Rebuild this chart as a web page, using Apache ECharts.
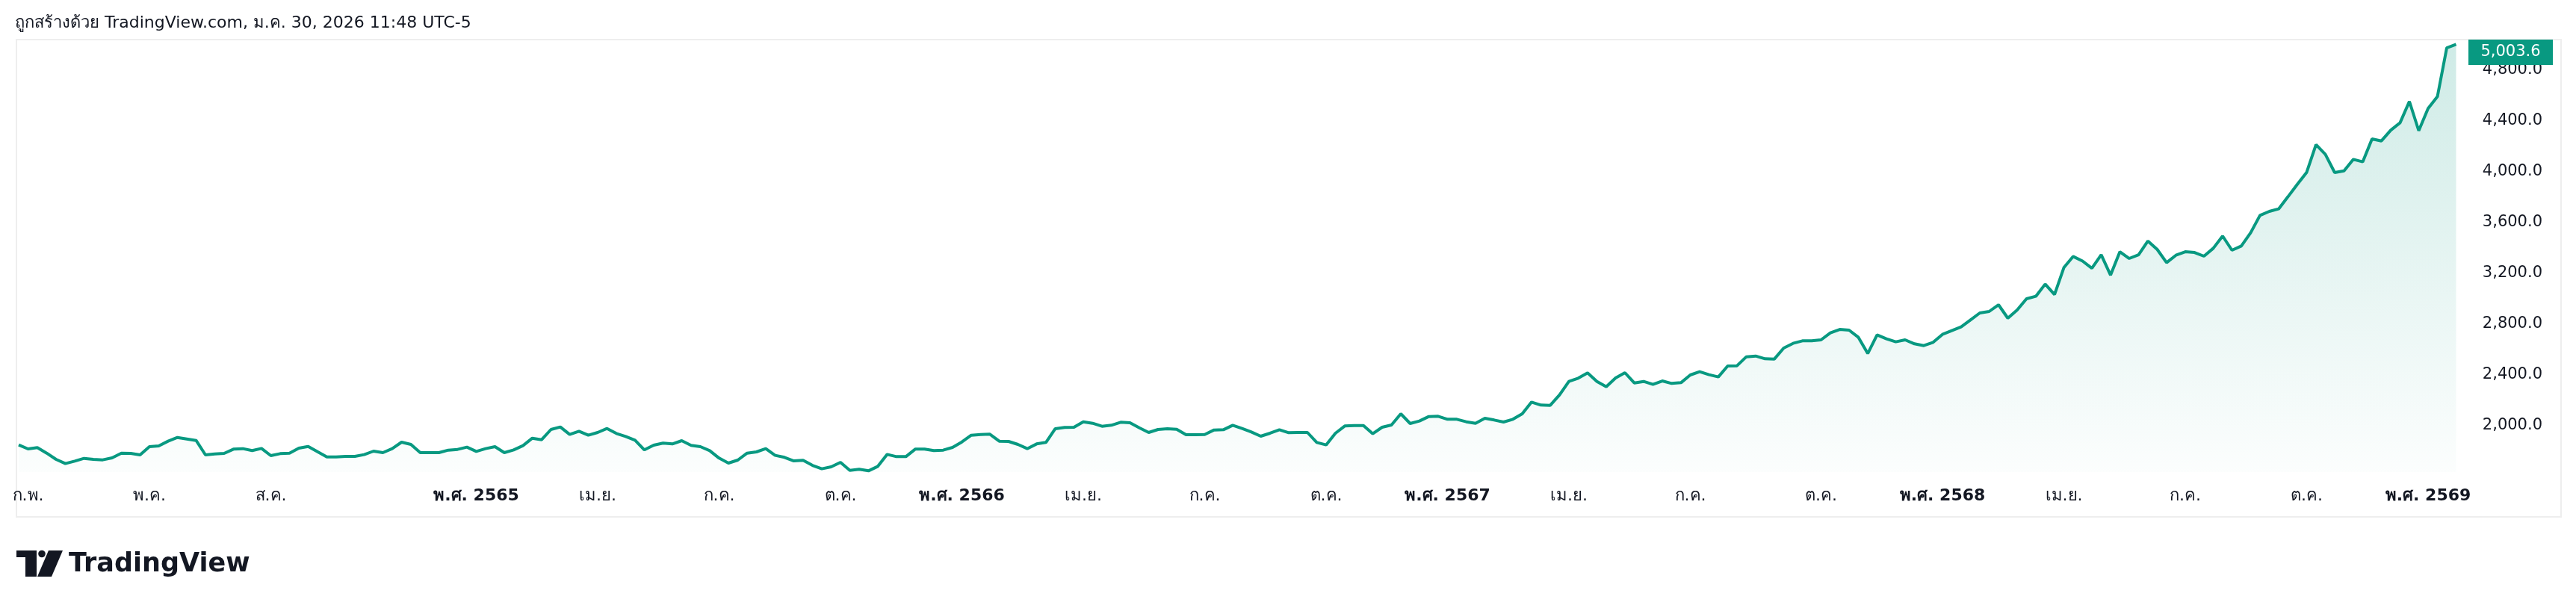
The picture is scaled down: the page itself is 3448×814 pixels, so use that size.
<!DOCTYPE html>
<html>
<head>
<meta charset="utf-8">
<script src="https://cdn.jsdelivr.net/npm/echarts@6/dist/echarts.min.js"></script>
<style>
html,body{margin:0;padding:0;background:#ffffff;}
#chart{width:3448px;height:814px;}
</style>
</head>
<body>
<div id="chart"></div>
<script>
// ---- data (weekly closes, first bar = week of 2021-01-25) ----
const firstWeek = '2021-01-25';
const weeklyClose = [
  1849.0, 1817.7, 1827.5, 1784.3, 1735.3, 1702.0, 1721.6, 1743.2, 1735.3, 1731.4,
  1747.1, 1784.3, 1782.4, 1770.6, 1835.3, 1841.2, 1878.5, 1907.9, 1896.1, 1884.3,
  1770.6, 1778.5, 1782.4, 1815.7, 1819.6, 1804.0, 1821.6, 1764.7, 1780.4, 1784.3,
  1823.6, 1837.3, 1796.1, 1755.0, 1755.0, 1758.9, 1758.9, 1772.6, 1800.0, 1788.3,
  1819.6, 1870.6, 1853.0, 1788.3, 1788.3,
  1788.3, 1807.9, 1813.8, 1831.4, 1798.1, 1819.6, 1835.3, 1788.3, 1809.8, 1843.2,
  1902.0, 1890.2, 1970.6, 1990.2, 1931.4, 1956.9, 1925.5, 1947.1, 1978.4, 1939.3,
  1915.7, 1886.3, 1809.8, 1847.1, 1862.8, 1856.9, 1882.4, 1845.1, 1835.3, 1804.0,
  1745.1, 1705.9, 1729.4, 1784.3, 1794.1, 1819.6, 1766.7, 1751.0, 1723.5, 1727.5,
  1688.2, 1660.8, 1676.5, 1711.8,
  1649.0, 1656.8, 1645.1, 1680.4, 1774.5, 1756.9, 1756.9, 1815.6, 1815.6, 1803.9,
  1807.8, 1829.4, 1872.5, 1925.5, 1931.3, 1933.3, 1878.4, 1876.5, 1852.9, 1819.6,
  1856.8, 1868.6, 1976.5, 1986.3, 1988.2, 2031.4, 2019.6, 1996.1, 2003.9, 2027.4,
  2023.5, 1984.3, 1947.1, 1970.6, 1976.5, 1972.5, 1929.4, 1929.4, 1931.3, 1966.7,
  1968.6, 2003.9, 1978.4, 1951.0,
  1917.6, 1941.2, 1968.6, 1945.1, 1947.1, 1947.1, 1868.6, 1849.0, 1941.2, 1998.0,
  2002.0, 2002.0, 1937.2, 1988.2, 2006.0, 2094.1, 2017.6, 2037.3, 2072.6, 2074.5,
  2051.0, 2051.0, 2031.4, 2019.6, 2058.8, 2045.1, 2029.4, 2051.0, 2094.1, 2186.3,
  2162.8, 2160.8, 2243.1, 2349.0, 2374.5, 2415.7, 2349.0, 2307.8, 2376.5, 2417.6,
  2337.3, 2349.0, 2325.5, 2352.9,
  2333.3, 2339.2, 2400.0, 2425.5, 2401.9, 2384.3, 2470.5, 2472.5, 2543.1, 2549.0,
  2527.4, 2525.5, 2611.7, 2649.0, 2668.6, 2668.6, 2676.5, 2731.4, 2758.8, 2752.9,
  2696.0, 2568.6, 2715.6, 2684.3, 2660.8, 2676.5, 2645.1, 2631.3, 2656.8, 2719.6,
  2749.0, 2778.4, 2833.3, 2888.2, 2900.0, 2952.9, 2847.0, 2911.7, 2999.9, 3019.6,
  3115.6, 3033.3, 3245.1, 3333.3,
  3297.0, 3240.1, 3346.5, 3186.2, 3370.5, 3317.6, 3346.5, 3454.8, 3388.2, 3284.3,
  3343.0, 3370.5, 3364.6, 3335.2, 3397.8, 3494.1, 3382.3, 3415.6, 3519.6, 3656.9,
  3688.3, 3707.8, 3803.9, 3901.9, 3996.1, 4213.7, 4137.2, 3994.1, 4007.8, 4098.0,
  4078.4, 4258.8, 4243.1, 4327.4, 4386.2, 4554.5, 4323.5, 4498.0, 4592.1, 4976.4,
  5003.6
];
const priceTicks = [2000, 2400, 2800, 3200, 3600, 4000, 4400, 4800];
const thaiMonths = ['ม.ค.','ก.พ.','มี.ค.','เม.ย.','พ.ค.','มิ.ย.','ก.ค.','ส.ค.','ก.ย.','ต.ค.','พ.ย.','ธ.ค.'];
const timeLabelMonths = ['2021-02','2021-05','2021-08','2022-01','2022-04','2022-07','2022-10',
  '2023-01','2023-04','2023-07','2023-10','2024-01','2024-04','2024-07','2024-10',
  '2025-01','2025-04','2025-07','2025-10','2026-01'];
const titleText = 'ถูกสร้างด้วย TradingView.com, ม.ค. 30, 2026 11:48 UTC-5';

// ---- categories: one per weekly bar ----
const weekDates = [];
{
  const t0 = Date.parse(firstWeek + 'T00:00:00Z');
  for (let i = 0; i < weeklyClose.length; i++) {
    weekDates.push(new Date(t0 + i * 7 * 86400000).toISOString().slice(0, 10));
  }
}
const labelIndex = new Set();
weekDates.forEach((d, i) => {
  const key = d.slice(0, 7);
  const prev = i > 0 ? weekDates[i - 1].slice(0, 7) : null;
  if (key !== prev && timeLabelMonths.includes(key)) labelIndex.add(i);
});

const fmtPrice = v => v.toLocaleString('en-US', {minimumFractionDigits: 1, maximumFractionDigits: 1});
const lastIdx = weeklyClose.length - 1;
const lastVal = weeklyClose[lastIdx];

const FONT = '"DejaVu Sans", "Noto Sans", sans-serif';
const chart = echarts.init(document.getElementById('chart'), null, {renderer: 'canvas'});

// pane: top y=53, bottom y=632 ; scale 0.17 px per unit with 2000 at y=570
const yMax = 2000 + (570 - 53) / 0.17;
const yMin = 2000 - (632 - 570) / 0.17;

chart.setOption({
  animation: false,
  backgroundColor: '#ffffff',
  textStyle: {fontFamily: FONT},
  grid: {left: 25, right: 160.5, top: 53, bottom: 182, containLabel: false},
  xAxis: {
    type: 'category',
    data: weekDates,
    boundaryGap: false,
    axisLine: {show: false},
    axisTick: {show: false},
    splitLine: {show: false},
    axisLabel: {
      interval: (i) => labelIndex.has(i),
      hideOverlap: false,
      margin: 21,
      fontSize: 22,
      color: '#131722',
      fontFamily: FONT,
      formatter: (val) => {
        const y = +val.slice(0, 4), m = +val.slice(5, 7) - 1;
        if (m === 0) return '{b|พ.ศ. ' + (y + 543) + '}';
        return thaiMonths[m];
      },
      rich: {b: {fontWeight: 'bold', fontSize: 22, color: '#131722', fontFamily: FONT}}
    }
  },
  yAxis: {
    type: 'value',
    position: 'right',
    min: yMin,
    max: yMax,
    axisLine: {show: false},
    axisTick: {show: false},
    splitLine: {show: false},
    axisLabel: {
      customValues: priceTicks,
      align: 'right',
      margin: 115.5,
      fontSize: 21,
      color: '#131722',
      fontFamily: FONT,
      formatter: v => fmtPrice(v)
    }
  },
  series: [{
    type: 'line',
    data: weeklyClose,
    symbol: 'none',
    showSymbol: false,
    lineStyle: {color: '#089981', width: 4},
    itemStyle: {color: '#089981'},
    areaStyle: {
      color: new echarts.graphic.LinearGradient(0, 0, 0, 1, [
        {offset: 0, color: 'rgba(8,153,129,0.28)'},
        {offset: 1, color: 'rgba(8,153,129,0.02)'}
      ])
    },
    markPoint: {
      symbol: 'rect',
      symbolSize: [113, 34],
      symbolOffset: [73, 10.6],
      itemStyle: {color: '#089981'},
      label: {show: true, color: '#ffffff', fontSize: 21, fontFamily: FONT, formatter: () => fmtPrice(lastVal)},
      data: [{coord: [lastIdx, lastVal], value: lastVal}]
    },
    z: 3
  }],
  graphic: [
    {type: 'rect', shape: {x: 22, y: 53, width: 3406, height: 639}, style: {fill: 'none', stroke: '#eeeeee', lineWidth: 2}, z: 0, silent: true},
    {type: 'text', x: 20, y: 31, style: {text: titleText, font: '22px "DejaVu Sans", sans-serif', fill: '#131722', textVerticalAlign: 'middle'}},
    {type: 'polygon', shape: {points: [[22,737],[49,737],[49,772],[34,772],[34,746],[22,746]]}, style: {fill: '#131722'}},
    {type: 'circle', shape: {cx: 56, cy: 741.5, r: 4.8}, style: {fill: '#131722'}},
    {type: 'polygon', shape: {points: [[65,737],[84,737],[69,772],[50,772]]}, style: {fill: '#131722'}},
    {type: 'text', x: 92, y: 756, style: {text: 'TradingView', font: 'bold 35px "DejaVu Sans", sans-serif', fill: '#131722', textVerticalAlign: 'middle'}}
  ]
});
</script>
</body>
</html>
